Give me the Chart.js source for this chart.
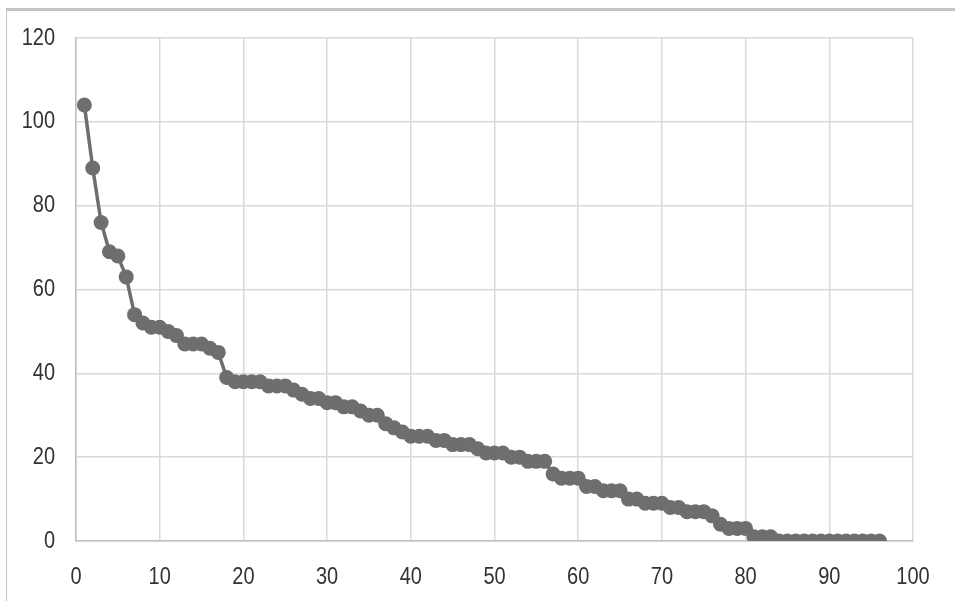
<!DOCTYPE html>
<html>
<head>
<meta charset="utf-8">
<script src="https://cdn.jsdelivr.net/npm/chart.js@4"></script>
<style>
  html, body { margin: 0; padding: 0; background: #fff; }
  #wrap { position: relative; width: 955px; height: 601px; overflow: hidden; }
  #frame { position: absolute; left: 6px; top: 8px; width: 960px; height: 610px;
           border-top: 3px solid #c4c4c4; border-left: 1px solid #c4c4c4; box-sizing: border-box; }
  canvas { position: absolute; left: 0; top: 0; }
</style>
</head>
<body>
<div id="wrap">
  <div id="frame"></div>
  <canvas id="c" width="955" height="601"></canvas>
</div>
<script>
const xValues = [1,2,3,4,5,6,7,8,9,10,11,12,13,14,15,16,17,18,19,20,21,22,23,24,25,26,27,28,29,30,31,32,33,34,35,36,37,38,39,40,41,42,43,44,45,46,47,48,49,50,51,52,53,54,55,56,57,58,59,60,61,62,63,64,65,66,67,68,69,70,71,72,73,74,75,76,77,78,79,80,81,82,83,84,85,86,87,88,89,90,91,92,93,94,95,96];
const yValues = [104,89,76,69,68,63,54,52,51,51,
                 50,49,47,47,47,46,45,39,38,38,
                 38,38,37,37,37,36,35,34,34,33,
                 33,32,32,31,30,30,28,27,26,25,
                 25,25,24,24,23,23,23,22,21,21,
                 21,20,20,19,19,19,16,15,15,15,
                 13,13,12,12,12,10,10,9,9,9,
                 8,8,7,7,7,6,4,3,3,3,
                 1,1,1,0,0,0,0,0,0,0,
                 0,0,0,0,0,0];
const xTicks = [0,10,20,30,40,50,60,70,80,90,100];
const yTicks = [0,20,40,60,80,100,120];

const points = xValues.map((x, i) => ({ x: x, y: yValues[i] }));
const FONT = "20px 'Liberation Sans', sans-serif";
const TEXT_COLOR = '#333333';
const STRETCH = 1.2;

// Draws the axes' tick labels (from the library's own scales) with a tall, narrow look
const tallTicks = {
  id: 'tallTicks',
  afterDraw(chart) {
    const ctx = chart.ctx;
    const xs = chart.scales.x, ys = chart.scales.y;
    ctx.save();
    ctx.font = FONT;
    ctx.fillStyle = TEXT_COLOR;
    ctx.textBaseline = 'middle';
    ctx.textAlign = 'right';
    ys.ticks.forEach(t => {
      const py = ys.getPixelForValue(t.value);
      ctx.save();
      ctx.translate(ys.right - 21, py);
      ctx.scale(1, STRETCH);
      ctx.fillText(String(t.value), 0, 0);
      ctx.restore();
    });
    ctx.textAlign = 'center';
    xs.ticks.forEach(t => {
      const px = xs.getPixelForValue(t.value);
      ctx.save();
      ctx.translate(px, xs.top + 36);
      ctx.scale(1, STRETCH);
      ctx.fillText(String(t.value), 0, 0);
      ctx.restore();
    });
    ctx.restore();
  }
};

new Chart(document.getElementById('c'), {
  type: 'line',
  data: {
    datasets: [{
      data: points,
      borderColor: '#6e6e6e',
      backgroundColor: '#6e6e6e',
      borderWidth: 3.5,
      pointRadius: 7.5,
      pointBorderWidth: 0,
      pointBackgroundColor: '#6e6e6e',
      tension: 0
    }]
  },
  plugins: [tallTicks],
  options: {
    responsive: false,
    animation: false,
    layout: { padding: { left: 0, top: 38, right: 42, bottom: 0 } },
    plugins: { legend: { display: false }, tooltip: { enabled: false } },
    scales: {
      x: {
        type: 'linear',
        min: xTicks[0], max: xTicks[xTicks.length - 1],
        afterBuildTicks: s => { s.ticks = xTicks.map(v => ({ value: v })); },
        afterFit: s => { s.height = 60; },
        grid: { color: '#d9d9d9', lineWidth: 1.5, drawTicks: false },
        border: { color: '#bfbfbf', width: 1.5 },
        ticks: { display: false }
      },
      y: {
        type: 'linear',
        min: yTicks[0], max: yTicks[yTicks.length - 1],
        afterBuildTicks: s => { s.ticks = yTicks.map(v => ({ value: v })); },
        afterFit: s => { s.width = 76; },
        grid: { color: '#d9d9d9', lineWidth: 1.5, drawTicks: false },
        border: { color: '#bfbfbf', width: 1.5 },
        ticks: { display: false }
      }
    }
  }
});
</script>
</body>
</html>
